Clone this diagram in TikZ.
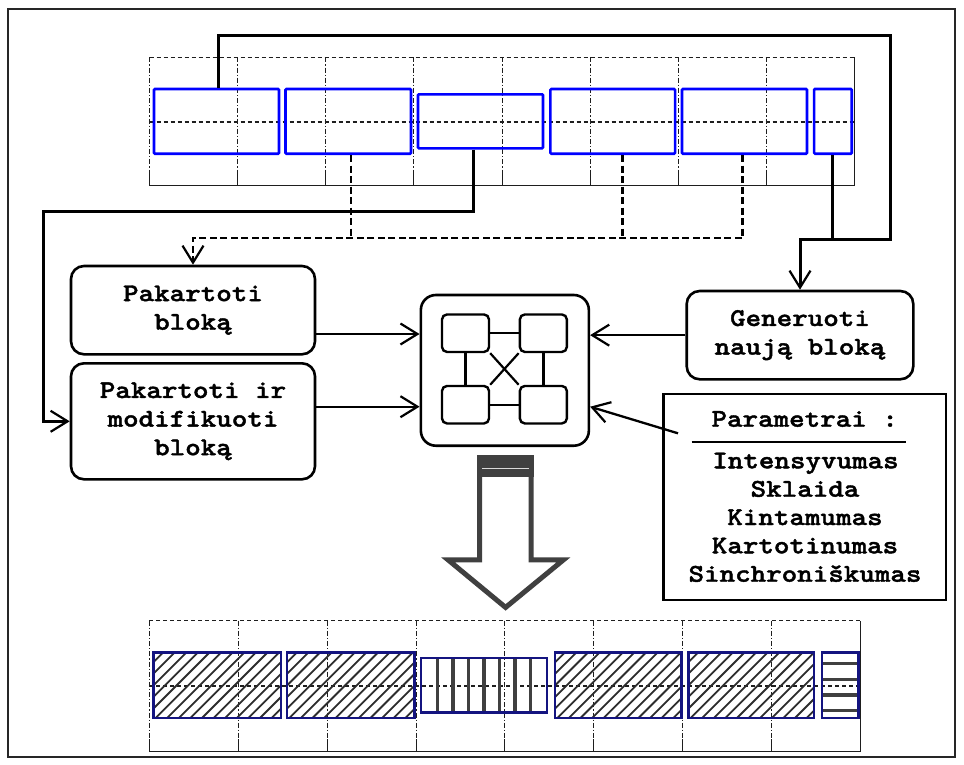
\documentclass[tikz,border=0pt]{standalone}
\usepackage{fontspec}
\newfontfamily\courb{lmmonolt10-bold.otf}[FakeStretch=1.16,FakeBold=1.6]
\usetikzlibrary{arrows.meta}
\definecolor{navyb}{RGB}{20,20,128}
\definecolor{hatchc}{RGB}{45,45,45}
\definecolor{arrc}{RGB}{64,64,64}
\definecolor{gridc}{RGB}{30,30,30}
\newcommand\hatchdiag[4]{%
 \begin{scope}
  \clip (#1,#2) rectangle (#3,#4);
  \foreach \k in {0,...,18} {\draw[hatchc,line width=1.8pt] (#1-70+\k*11.6,#4+3) -- ++(75,-75);}
 \end{scope}}
\newcommand\gridblk[5]{%
 \draw[gridc,line width=1pt,dash pattern=on 4pt off 3pt] (#1,#3) -- (#1+8*#2,#3);
 \draw[gridc,line width=1.2pt,dash pattern=on 4pt off 3pt] (#1,#4) -- (#1+8*#2,#4);
 \draw[gridc,line width=1pt] (#1,#5) -- (#1+8*#2,#5) -- (#1+8*#2,#3);
 \foreach \k in {0,...,7}{
   \draw[gridc,line width=1pt,dash pattern=on 5pt off 2pt on 1.2pt off 2pt] (#1+\k*#2,#3) -- (#1+\k*#2,#5-12);
   \draw[gridc,line width=1pt] (#1+\k*#2,#5-12) -- (#1+\k*#2,#5);}}
\begin{document}
\begin{tikzpicture}[x=1pt,y=-1pt,
  bluebox/.style={draw=blue, line width=2.6pt, inner sep=0pt, rounded corners=1pt},
  navybox/.style={draw=navyb, line width=2.4pt, inner sep=0pt},
  txt/.style={font=\courb\fontsize{25.5pt}{28.6pt}\selectfont},
  rbox/.style={txt, draw, line width=2.6pt, rounded corners=13pt, align=center, inner sep=0pt},
  sbox/.style={draw, line width=2.4pt, rounded corners=5pt, minimum width=47pt, minimum height=37.5pt, inner sep=0pt},
  openarr/.style={-{Straight Barb[length=17pt,width=21pt,line width=2.2pt]}},
  conn/.style={line width=3pt},
  aconn/.style={line width=2.3pt, openarr},
  dconn/.style={line width=2.5pt, dash pattern=on 7pt off 3.5pt},
]
\fill[white] (0,0) rectangle (964,764);
\useasboundingbox (0,0) rectangle (964,764);
\draw[line width=2pt, black!85] (8.3,9.3) rectangle (955,757);

% grids
\gridblk{149.5}{88.125}{57.3}{122}{185.7}
\gridblk{149.3}{88.9}{620.7}{686}{751}

% top blocks
\node[bluebox,minimum width=125pt,minimum height=64.7pt] (t1) at (216.5,121.35) {};
\node[bluebox,minimum width=125.5pt,minimum height=64.7pt] (t2) at (348.25,121.35) {};
\node[bluebox,minimum width=125pt,minimum height=54pt] (t3) at (480.5,121.3) {};
\node[bluebox,minimum width=124.7pt,minimum height=64.7pt] (t4) at (612.7,121.35) {};
\node[bluebox,minimum width=125pt,minimum height=64.7pt] (t5) at (744.5,121.35) {};
\node[bluebox,minimum width=37.7pt,minimum height=64.7pt] (t6) at (832.9,121.35) {};

% bottom blocks
\hatchdiag{153.3}{652.3}{281}{717.7}
\hatchdiag{287}{652.3}{414.3}{717.7}
\hatchdiag{555}{652.3}{681.7}{717.7}
\hatchdiag{688.3}{652.3}{814}{717.7}
\foreach \k in {0,...,6}{\draw[arrc,line width=3.4pt] (437.3+\k*15.5,658) -- (437.3+\k*15.5,712.7);}
\foreach \yy in {663.3,679.3,695,710.3}{\draw[arrc,line width=3.4pt] (821.7,\yy) -- (858.3,\yy);}
\node[navybox,minimum width=127.7pt,minimum height=65.4pt] (b1) at (217.2,685) {};
\node[navybox,minimum width=127.3pt,minimum height=65.4pt] (b2) at (350.7,685) {};
\node[navybox,minimum width=126pt,minimum height=54.7pt] (b3) at (483.7,685.3) {};
\node[navybox,minimum width=126.7pt,minimum height=65.4pt] (b4) at (618.3,685) {};
\node[navybox,minimum width=125.7pt,minimum height=65.4pt] (b5) at (751.2,685) {};
\node[navybox,minimum width=36.6pt,minimum height=65.4pt] (b6) at (840,685) {};

% rounded boxes
\node[rbox,minimum width=244pt,minimum height=88.3pt] (pak) at (193,310.15) {Pakartoti\\bloką};
\node[rbox,minimum width=244pt,minimum height=116pt] (pmod) at (193,421.3) {Pakartoti ir\\modifikuoti\\bloką};
\node[rbox,minimum width=226.6pt,minimum height=88.3pt] (gen) at (800,335.15) {Generuoti\\naują bloką};

% central symbol
\node[draw,line width=2.6pt,rounded corners=15pt,minimum width=168pt,minimum height=150.7pt,inner sep=0pt] (cen) at (504.85,370.35) {};
\node[sbox] (s1) at (465.5,333.2) {};
\node[sbox] (s2) at (543.35,333.2) {};
\node[sbox] (s3) at (465.5,404.7) {};
\node[sbox] (s4) at (543.35,404.7) {};
\draw[line width=2.4pt] (s1.east) -- (s2.west);
\draw[line width=2.4pt] (s3.east) -- (s4.west);
\draw[line width=2.4pt] (s1.south) -- (s3.north);
\draw[line width=2.4pt] (s2.south) -- (s4.north);
\draw[line width=2.2pt] (s1.south east) -- (s4.north west);
\draw[line width=2.2pt] (s2.south west) -- (s3.north east);

% parameters box
\node[draw,line width=2.4pt,minimum width=282.7pt,minimum height=206pt,inner sep=0pt] (par) at (804.65,497) {};
\node[txt,anchor=base] (ph) at (804.7,426.7) {Parametrai :};
\draw[line width=2.4pt] (691.7,441.7) -- (906,441.7);
\node[txt,anchor=base] (p1) at (805.5,468.3) {Intensyvumas};
\node[txt,anchor=base] (p2) at (805,496.7) {Sklaida};
\node[txt,anchor=base] (p3) at (805,525) {Kintamumas};
\node[txt,anchor=base] (p4) at (805,553.3) {Kartotinumas};
\node[txt,anchor=base] (p5) at (805,581.7) {Sinchroniškumas};

% block arrow
\fill[arrc] (477,455) rectangle (533.7,477);
\draw[black!15, line width=1.3pt] (482,468.3) -- (528.7,468.3);
\draw[arrc, line width=5pt, miter limit=10] (479.5,474) -- (479.5,559.8) -- (448,559.8) -- (505.6,607.4) -- (563.5,559.8) -- (531.2,559.8) -- (531.2,474);

% connectors
\coordinate (j1) at (890.7,35);
\coordinate (j2) at (800,239.7);
\coordinate (j3) at (43.3,211);
\coordinate (j4) at (193,238);
\draw[conn,openarr] ([xshift=1.8pt]t1.north) |- (j1) |- (j2) -- (gen.north);
\draw[conn] (t6.south) -- (t6.south |- j2);
\draw[conn,openarr] ([xshift=-7pt]t3.south) |- (j3) |- (pmod.west);
\draw[dconn,openarr] ([xshift=-1.8pt]t5.south) |- (j4) -- (pak.north);
\path ([xshift=2.5pt]t2.south) coordinate (d2);
\path ([xshift=10pt]t4.south) coordinate (d4);
\draw[dconn] (d2) -- (d2 |- j4);
\draw[dconn] (d4) -- (d4 |- j4);

\path ([yshift=-23.85pt]pak.east) coordinate (a1);
\path ([yshift=14.6pt]pmod.east) coordinate (a2);
\draw[aconn] (a1) -- (a1 -| cen.west);
\draw[aconn] (a2) -- (a2 -| cen.west);
\draw[aconn] (gen.west) -- (gen.west -| cen.east);
\coordinate (pa) at (678,433.3);
\path ([yshift=-36.35pt]cen.east) coordinate (ce2);
\draw[aconn] (pa) -- (ce2);
\end{tikzpicture}
\end{document}
